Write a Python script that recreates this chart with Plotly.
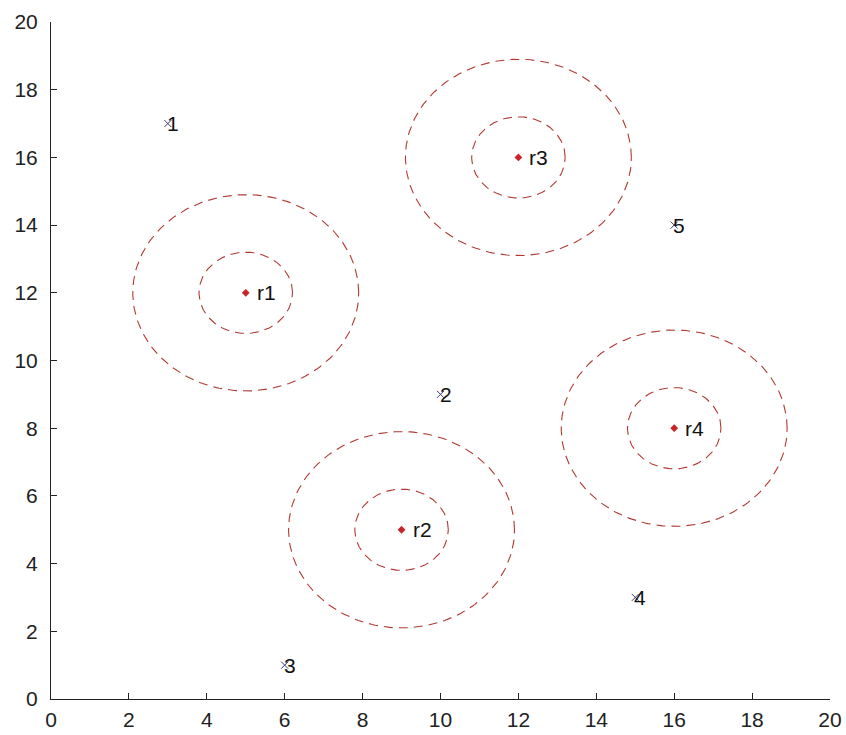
import numpy as np
import plotly.graph_objects as go

# Sample points
pt_x = [3, 10, 6, 15, 16]
pt_y = [17, 9, 1, 3, 14]
pt_labels = ["1", "2", "3", "4", "5"]

# Reference centres and their two radii
ref_x = [5, 9, 12, 16]
ref_y = [12, 5, 16, 8]
ref_labels = ["r1", "r2", "r3", "r4"]
inner_r = 1.2
outer_r = 2.9

tick_vals = list(range(0, 21, 2))

font_family = "Liberation Sans, Arial, sans-serif"
font_size = 21
ring_color = "#b03a32"
centre_color = "#c8242a"
cross_color = "#3a3a78"

fig = go.Figure()

theta = np.linspace(0, 2 * np.pi, 241)
for cx, cy in zip(ref_x, ref_y):
    for r in (inner_r, outer_r):
        fig.add_trace(go.Scatter(
            x=cx + r * np.cos(theta), y=cy + r * np.sin(theta),
            mode="lines", line=dict(color=ring_color, width=1.1, dash="9px,6px"),
            hoverinfo="skip", showlegend=False))

fig.add_trace(go.Scatter(
    x=ref_x, y=ref_y, mode="markers",
    marker=dict(symbol="diamond", size=6, color=centre_color),
    showlegend=False))

for x, y, t in zip(ref_x, ref_y, ref_labels):
    fig.add_annotation(x=x, y=y, text=t, showarrow=False, xanchor="left",
                       yanchor="middle", xshift=9,
                       font=dict(family=font_family, size=font_size, color="#111111"))

fig.add_trace(go.Scatter(
    x=pt_x, y=pt_y, mode="markers",
    marker=dict(symbol="x-thin-open", size=7, color=cross_color,
                line=dict(color=cross_color, width=1)),
    showlegend=False))

for x, y, t in zip(pt_x, pt_y, pt_labels):
    fig.add_annotation(x=x, y=y, text=t, showarrow=False, xanchor="left",
                       yanchor="middle", xshift=-3,
                       font=dict(family=font_family, size=font_size, color="#111111"))

axis_common = dict(
    range=[0, 20], tickvals=tick_vals, ticktext=[str(v) for v in tick_vals],
    showgrid=False, zeroline=False, showline=True, linecolor="#222222",
    linewidth=1, ticks="inside", ticklen=6, tickcolor="#222222",
    tickfont=dict(family=font_family, size=font_size, color="#222222"),
    mirror=False, fixedrange=True, automargin=False)

fig.update_layout(
    width=846, height=735,
    margin=dict(l=51, r=16, t=22, b=36),
    paper_bgcolor="white", plot_bgcolor="white",
    xaxis=dict(**axis_common, ticklabelstandoff=2),
    yaxis=dict(**axis_common, ticklabelstandoff=8),
)

fig.write_html("out.html")
